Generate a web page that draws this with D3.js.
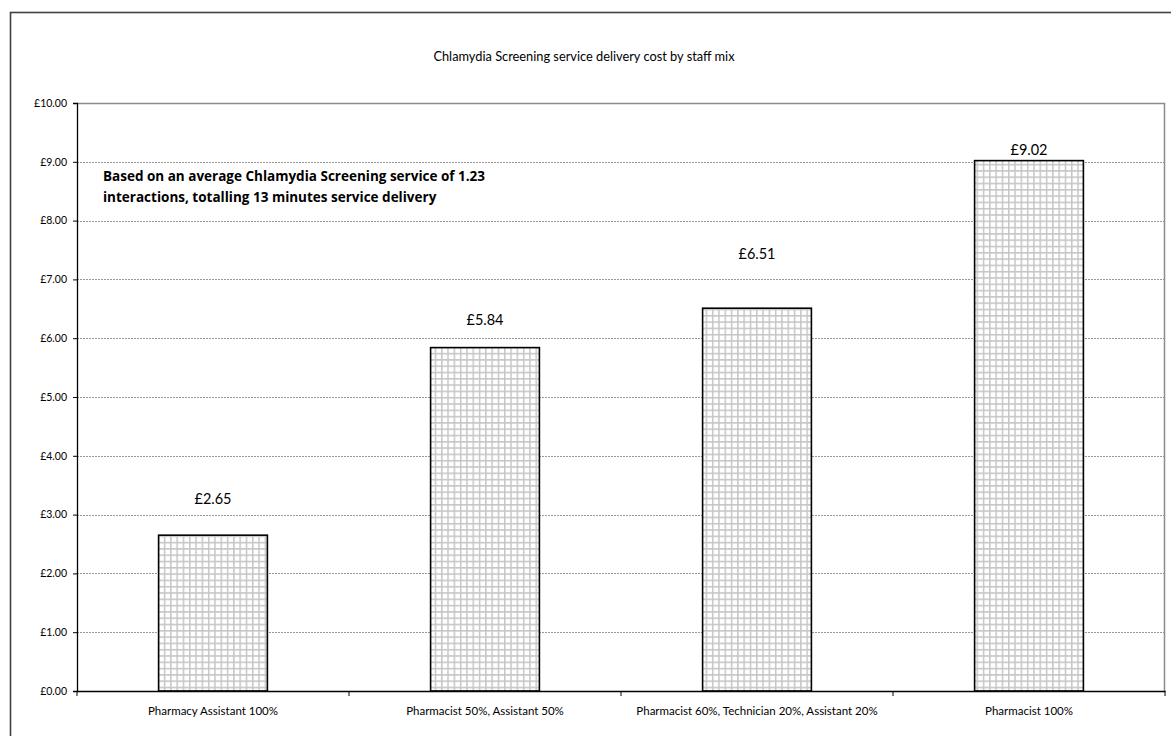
<!DOCTYPE html>
<html>
<head>
<meta charset="utf-8">
<script src="https://cdn.jsdelivr.net/npm/d3@7"></script>
<style>
  html, body { margin: 0; padding: 0; background: #fff; }
  svg { display: block; font-family: "Lato", "Liberation Sans", sans-serif; }
</style>
</head>
<body>
<svg id="chart" width="1171" height="736"></svg>
<script>
// Staff-mix scenarios and their delivery cost (GBP)
const categories = [
  "Pharmacy Assistant 100%",
  "Pharmacist 50%, Assistant 50%",
  "Pharmacist 60%, Technician 20%, Assistant 20%",
  "Pharmacist 100%"
];
const costs = [2.65, 5.84, 6.51, 9.02];
const yTicks = [0, 1, 2, 3, 4, 5, 6, 7, 8, 9, 10];

const title = "Chlamydia Screening service delivery cost by staff mix";
const noteLines = [
  "Based on an average Chlamydia Screening service of 1.23",
  "interactions, totalling 13 minutes service delivery"
];

// Distance (px) of each value label above its bar
const labelLift = [36, 28, 54, 11];

const svg = d3.select("#chart");
const plot = { left: 77, right: 1165, top: 103, bottom: 691 };

const x = d3.scaleBand().domain(categories).range([plot.left, plot.right]).paddingInner(0.6).paddingOuter(0.3);
const y = d3.scaleLinear().domain([0, 10]).range([plot.bottom, plot.top]);
const fmt = v => "£" + d3.format(".2f")(v);

// Check pattern used to fill the bars
const defs = svg.append("defs");
const pat = defs.append("pattern").attr("id", "grid").attr("patternUnits", "userSpaceOnUse")
  .attr("width", 6.3).attr("height", 6.3).attr("x", 0).attr("y", 0);
pat.append("rect").attr("width", 6.3).attr("height", 6.3).attr("fill", "#fff");
pat.append("path").attr("d", "M0,0.75H6.3M0.75,0V6.3").attr("stroke", "#c6c6c6").attr("stroke-width", 1.5);

// Outer chart frame
svg.append("rect").attr("x", 10.5).attr("y", 12.5).attr("width", 1200).attr("height", 800)
  .attr("fill", "none").attr("stroke", "#404040").attr("stroke-width", 1.6);

// Title
svg.append("text").attr("x", 584).attr("y", 61).attr("text-anchor", "middle")
  .attr("font-size", 12.8).attr("fill", "#000").text(title);

// Gridlines
svg.append("g").selectAll("line").data(yTicks.filter(t => t > 0 && t < 10)).join("line")
  .attr("x1", plot.left).attr("x2", plot.right)
  .attr("y1", d => Math.round(y(d)) + 0.5).attr("y2", d => Math.round(y(d)) + 0.5)
  .attr("stroke", "#999").attr("stroke-width", 1).attr("stroke-dasharray", "2,1");

// Plot area top & right border
svg.append("path")
  .attr("d", `M${plot.left},${plot.top + 0.5}H${plot.right - 0.5}V${plot.bottom}`)
  .attr("fill", "none").attr("stroke", "#8c8c8c").attr("stroke-width", 1.5);

// Bars
svg.append("g").selectAll("rect").data(costs).join("rect")
  .attr("x", (d, i) => x(categories[i]))
  .attr("y", d => y(d))
  .attr("width", x.bandwidth())
  .attr("height", d => y(0) - y(d))
  .attr("fill", "url(#grid)")
  .attr("stroke", "#000").attr("stroke-width", 1.6);

// Value labels
svg.append("g").selectAll("text").data(costs).join("text")
  .attr("x", (d, i) => x(categories[i]) + x.bandwidth() / 2)
  .attr("y", (d, i) => y(d) - labelLift[i] + 5)
  .attr("text-anchor", "middle").attr("font-size", 14.5).attr("fill", "#000")
  .text(fmt);

// Y axis
const yAxis = d3.axisLeft(y).tickValues(yTicks).tickFormat(fmt).tickSize(4).tickPadding(6);
const gy = svg.append("g").attr("transform", `translate(${plot.left},0)`).call(yAxis);
gy.select(".domain").attr("stroke", "#000").attr("stroke-width", 1.3);
gy.selectAll(".tick line").attr("stroke", "#000");
gy.selectAll(".tick text").attr("font-size", 10.5).attr("font-family", "Lato, sans-serif").attr("fill", "#000");

// X axis with boundary ticks between categories
const gx = svg.append("g").attr("transform", `translate(0,${plot.bottom})`)
  .call(d3.axisBottom(x).tickSize(0).tickPadding(16));
gx.select(".domain").attr("stroke", "#000").attr("stroke-width", 1.5);
gx.selectAll(".tick text").attr("font-size", 11.5).attr("font-family", "Lato, sans-serif").attr("fill", "#000");
gx.append("g").selectAll("line").data(d3.range(categories.length + 1)).join("line")
  .attr("x1", i => plot.left + i * (plot.right - plot.left) / categories.length)
  .attr("x2", i => plot.left + i * (plot.right - plot.left) / categories.length)
  .attr("y1", 0).attr("y2", 5).attr("stroke", "#000");

// Annotation
svg.append("text").attr("x", 103).attr("y", 181).attr("font-size", 13.5).attr("font-weight", "bold")
  .attr("font-family", "'Open Sans', sans-serif").attr("fill", "#000")
  .selectAll("tspan").data(noteLines).join("tspan")
  .attr("x", 103).attr("dy", (d, i) => i === 0 ? 0 : 21).text(d => d);
</script>
</body>
</html>
